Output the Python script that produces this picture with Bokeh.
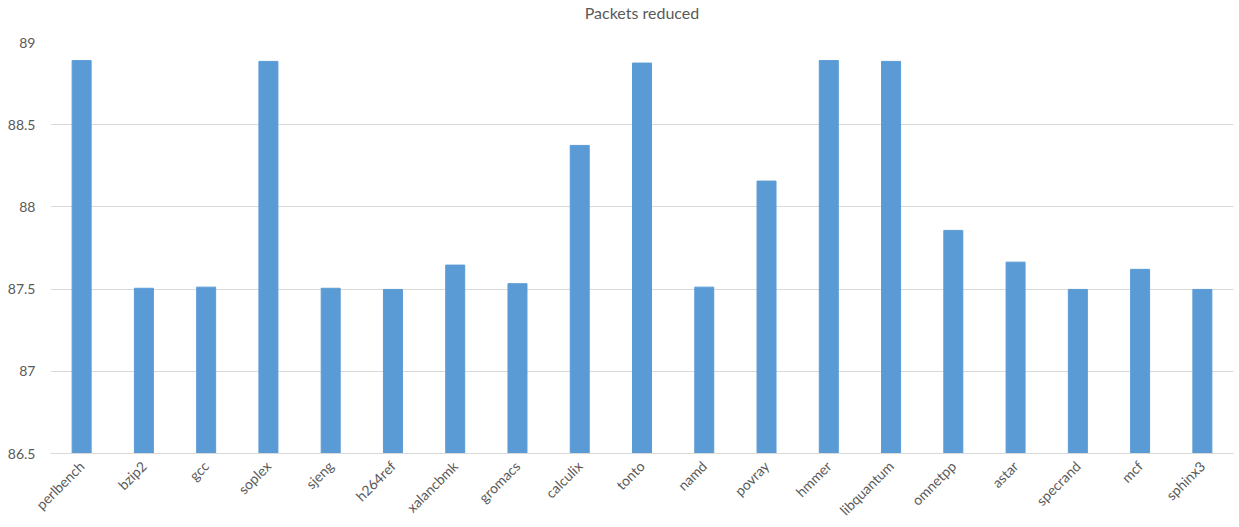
import math
from bokeh.plotting import figure
from bokeh.models import ColumnDataSource, Title
from bokeh.embed import file_html
from bokeh.resources import INLINE

categories = ["perlbench", "bzip2", "gcc", "soplex", "sjeng", "h264ref", "xalancbmk",
              "gromacs", "calculix", "tonto", "namd", "povray", "hmmer", "libquantum",
              "omnetpp", "astar", "specrand", "mcf", "sphinx3"]
values = [88.89, 87.505, 87.512, 88.885, 87.505, 87.498, 87.646,
          87.533, 88.374, 88.875, 87.512, 88.157, 88.89, 88.885,
          87.857, 87.664, 87.498, 87.62, 87.498]
y_ticks = [86.5, 87, 87.5, 88, 88.5, 89]
y_tick_labels = {86.5: "86.5", 87: "87", 87.5: "87.5", 88: "88", 88.5: "88.5", 89: "89"}

src = ColumnDataSource(dict(cat=categories, val=values))

FONT = "Lato"
GRAY = "#595959"

p = figure(x_range=categories, y_range=(86.5, 89), width=1239, height=527,
           output_backend="svg", toolbar_location=None,
           min_border_left=50, min_border_right=6, min_border_top=41, min_border_bottom=72)

p.title.text = "Packets reduced"
p.title.align = "center"
p.title.text_font = FONT
p.title.text_font_size = "16px"
p.title.text_font_style = "normal"
p.title.text_color = GRAY
p.title.standoff = 0

# spacer between title and plot area
p.add_layout(Title(text=" ", text_font_size="17px", standoff=0), "above")

p.vbar(x="cat", top="val", bottom=86.5, width=0.305, source=src,
       fill_color="#5b9bd5", line_color="#5b9bd5")

p.outline_line_color = None
p.xgrid.grid_line_color = None
p.ygrid.grid_line_color = "#d9d9d9"
p.ygrid.grid_line_width = 1
p.yaxis.ticker = y_ticks
p.yaxis.major_label_overrides = y_tick_labels
p.yaxis.axis_line_color = None
p.yaxis.major_tick_line_color = None
p.yaxis.minor_tick_line_color = None
p.yaxis.major_tick_out = 0
p.yaxis.major_tick_in = 0
p.yaxis.minor_tick_out = 0
p.yaxis.major_label_text_font = FONT
p.yaxis.major_label_text_font_size = "14px"
p.yaxis.major_label_text_color = GRAY
p.yaxis.major_label_standoff = 15

p.xaxis.axis_line_color = "#d9d9d9"
p.xaxis.major_tick_line_color = None
p.xaxis.minor_tick_line_color = None
p.xaxis.major_tick_out = 0
p.xaxis.major_tick_in = 0
p.xaxis.minor_tick_out = 0
p.xaxis.major_label_orientation = math.pi / 4
p.xaxis.major_label_text_font = FONT
p.xaxis.major_label_text_font_size = "14px"
p.xaxis.major_label_text_color = GRAY
p.xaxis.major_label_standoff = 10

open("out.html", "w").write(file_html(p, INLINE))
